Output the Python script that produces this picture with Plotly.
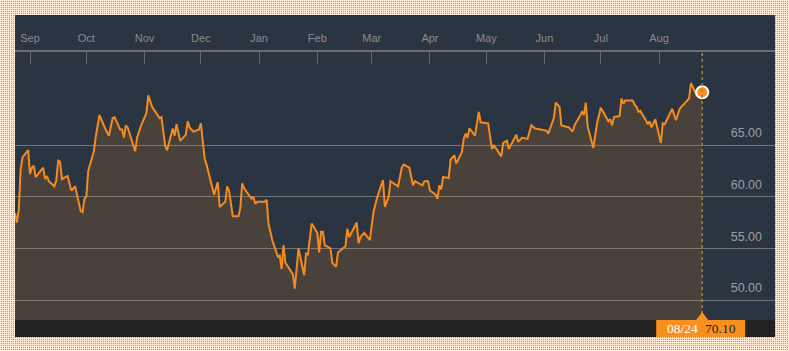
import base64
import pandas as pd
import plotly.graph_objects as go

# ---------------- data ----------------
dates = [
    "2015-08-24", "2015-08-25", "2015-08-26", "2015-08-27", "2015-08-28", "2015-08-31",
    "2015-09-01", "2015-09-02", "2015-09-03", "2015-09-04", "2015-09-08", "2015-09-09",
    "2015-09-10", "2015-09-11", "2015-09-14", "2015-09-15", "2015-09-16", "2015-09-17",
    "2015-09-18", "2015-09-21", "2015-09-23", "2015-09-25", "2015-09-28", "2015-09-29",
    "2015-09-30",
    "2015-10-01", "2015-10-02", "2015-10-05", "2015-10-06", "2015-10-08", "2015-10-11",
    "2015-10-13", "2015-10-15", "2015-10-16", "2015-10-19", "2015-10-20", "2015-10-21",
    "2015-10-22", "2015-10-23", "2015-10-27", "2015-10-28", "2015-10-30",
    "2015-11-02", "2015-11-03", "2015-11-05", "2015-11-08", "2015-11-09", "2015-11-10",
    "2015-11-12", "2015-11-13", "2015-11-16", "2015-11-17", "2015-11-18", "2015-11-20",
    "2015-11-23", "2015-11-24", "2015-11-25", "2015-11-27", "2015-11-30",
    "2015-12-01", "2015-12-02", "2015-12-03", "2015-12-04", "2015-12-08", "2015-12-10",
    "2015-12-11", "2015-12-14", "2015-12-15", "2015-12-16", "2015-12-18", "2015-12-21",
    "2015-12-22", "2015-12-23", "2015-12-24", "2015-12-28", "2015-12-29", "2015-12-30",
    "2015-12-31",
    "2016-01-04", "2016-01-05", "2016-01-06", "2016-01-08", "2016-01-11", "2016-01-12",
    "2016-01-13", "2016-01-14", "2016-01-15", "2016-01-19", "2016-01-20", "2016-01-22",
    "2016-01-25", "2016-01-26", "2016-01-27", "2016-01-29",
    "2016-02-01", "2016-02-02", "2016-02-03", "2016-02-04", "2016-02-05", "2016-02-08",
    "2016-02-09", "2016-02-11", "2016-02-12", "2016-02-16", "2016-02-17", "2016-02-18",
    "2016-02-22", "2016-02-23", "2016-02-24", "2016-02-26", "2016-02-29",
    "2016-03-02", "2016-03-04", "2016-03-07", "2016-03-08", "2016-03-10", "2016-03-11",
    "2016-03-15", "2016-03-17", "2016-03-18", "2016-03-21", "2016-03-23", "2016-03-24",
    "2016-03-28", "2016-03-29", "2016-03-31",
    "2016-04-01", "2016-04-04", "2016-04-05", "2016-04-06", "2016-04-07", "2016-04-08",
    "2016-04-11", "2016-04-12", "2016-04-14", "2016-04-15", "2016-04-18", "2016-04-19",
    "2016-04-20", "2016-04-21", "2016-04-22", "2016-04-25", "2016-04-27", "2016-04-28",
    "2016-05-02", "2016-05-04", "2016-05-05", "2016-05-09", "2016-05-10", "2016-05-12",
    "2016-05-13", "2016-05-17", "2016-05-18", "2016-05-20", "2016-05-23", "2016-05-25",
    "2016-05-27", "2016-05-31",
    "2016-06-02", "2016-06-03", "2016-06-06", "2016-06-07", "2016-06-09", "2016-06-10",
    "2016-06-14", "2016-06-16", "2016-06-17", "2016-06-21", "2016-06-22", "2016-06-23",
    "2016-06-24", "2016-06-27", "2016-06-29",
    "2016-07-01", "2016-07-05", "2016-07-06", "2016-07-07", "2016-07-08", "2016-07-11",
    "2016-07-12", "2016-07-13", "2016-07-14", "2016-07-18", "2016-07-19", "2016-07-20",
    "2016-07-21", "2016-07-22", "2016-07-25", "2016-07-26", "2016-07-27", "2016-07-28",
    "2016-07-29", "2016-07-30",
    "2016-08-02", "2016-08-03", "2016-08-04", "2016-08-06", "2016-08-08", "2016-08-10",
    "2016-08-12", "2016-08-15", "2016-08-17", "2016-08-18", "2016-08-20", "2016-08-21",
    "2016-08-24",
]

prices = [
    58.4, 57.5, 58.7, 62.6, 63.8, 64.5,
    62.2, 62.8, 63.0, 61.9, 62.8, 61.7,
    62.0, 61.5, 61.0, 61.6, 63.5, 63.4,
    61.7, 62.0, 60.6, 61.0, 58.6, 58.5,
    59.8,
    60.0, 62.5, 64.4, 65.8, 67.9, 66.6,
    65.9, 67.6, 67.7, 66.5, 66.5, 65.7,
    66.9, 66.7, 64.4, 65.7, 66.8,
    68.1, 69.8, 68.7, 67.9, 67.6, 67.7,
    64.9, 64.5, 66.6, 65.9, 67.0, 65.4,
    66.0, 67.3, 66.7, 66.3, 66.5,
    67.1, 65.0, 63.7, 63.1, 60.2, 61.4,
    59.0, 59.5, 61.0, 60.6, 58.1, 58.1,
    58.9, 61.3, 60.8, 59.8, 60.0, 59.3,
    59.5,
    59.5, 59.7, 57.4, 55.8, 54.2, 54.3,
    53.0, 55.3, 53.6, 52.5, 51.1, 55.0,
    52.4, 54.5, 54.4, 57.4,
    56.5, 54.6, 56.6, 56.6, 55.3, 55.0,
    53.6, 53.2, 54.6, 55.2, 56.9, 56.1,
    57.5, 55.5, 56.1, 56.5, 55.8,
    58.6, 60.0, 61.6, 59.0, 60.0, 61.5,
    61.0, 62.8, 63.1, 62.8, 61.1, 61.5,
    61.1, 61.5, 61.5,
    60.6, 60.2, 59.8, 61.1, 60.7, 61.9,
    61.8, 63.6, 64.0, 63.2, 64.3, 65.6,
    66.1, 65.7, 66.6, 65.9, 68.2, 67.2,
    67.1, 64.6, 65.0, 63.9, 65.2, 65.4,
    64.6, 66.0, 65.3, 65.7, 65.6, 66.9,
    66.6, 66.5,
    66.4, 66.1, 67.6, 69.1, 68.7, 66.9,
    66.7, 66.3, 66.9, 68.2, 67.9, 69.1,
    66.8, 64.7, 67.1,
    68.6, 67.3, 67.5, 66.9, 67.7, 67.8,
    69.5, 69.0, 69.3, 69.3, 68.9, 68.7,
    68.2, 68.3, 67.4, 67.0, 67.3, 66.7,
    67.1, 67.5,
    65.2, 67.1, 67.0, 67.7, 68.5, 67.4,
    68.5, 69.1, 69.5, 71.0, 70.3, 69.8,
    70.10,
]

month_ticks = ["2015-08-24", "2015-09-01", "2015-10-01", "2015-11-01", "2015-12-01",
               "2016-01-01", "2016-02-01", "2016-03-01", "2016-04-01", "2016-05-01",
               "2016-06-01", "2016-07-01", "2016-08-01", "2016-10-01"]
month_labels = ["", "Sep", "Oct", "Nov", "Dec", "Jan", "Feb", "Mar", "Apr", "May",
                "Jun", "Jul", "Aug", ""]
y_ticks = [50, 55, 60, 65]
y_labels = ["50.00", "55.00", "60.00", "65.00"]

x_range = ["2015-08-24", "2016-10-01 18:28"]
y_range = [48.064, 74.0]

# ---------------- styling ----------------
W, H = 789, 351
ML, MR, MT, MB = 15, 14, 52, 31
PW, PH = W - ML - MR, H - MT - MB
PANEL = "#2b3441"
ORANGE = "#f58b1f"

# dotted orange border pattern as a vector image (transparent in the panel)
border_svg = (
    "<svg xmlns='http://www.w3.org/2000/svg' width='789' height='351' "
    "viewBox='0 0 789 351' shape-rendering='crispEdges'>"
    "<defs><pattern id='p' x='0' y='0' width='2' height='2' patternUnits='userSpaceOnUse'>"
    "<rect x='0' y='0' width='2' height='2' fill='#fce8d2'/>"
    "<rect x='1' y='1' width='1' height='1' fill='#f08c28'/>"
    "</pattern></defs>"
    "<path fill='url(#p)' fill-rule='evenodd' d='M0,0H789V351H0Z M15,15V337H775V15Z'/>"
    "</svg>"
)
border_src = "data:image/svg+xml;base64," + base64.b64encode(border_svg.encode()).decode()

fig = go.Figure()
fig.add_trace(go.Scatter(
    x=dates, y=prices, mode="lines",
    line=dict(color=ORANGE, width=2),
    fill="tozeroy", fillcolor="rgba(247,144,30,0.15)",
    hoverinfo="skip", showlegend=False,
))
fig.add_trace(go.Scatter(
    x=[dates[-1]], y=[prices[-1]], mode="markers",
    marker=dict(size=12, color="#f7901e", line=dict(color="white", width=2)),
    hoverinfo="skip", showlegend=False, cliponaxis=False,
))

last_date = pd.Timestamp(dates[-1])
strip_h = (337 - 320) / PH

shapes = [
    dict(type="rect", xref="paper", yref="paper", x0=0, x1=1, y0=-strip_h, y1=0,
         fillcolor="#222222", line=dict(width=0), layer="above"),
    dict(type="line", xref="x", yref="paper", x0=dates[-1], x1=dates[-1], y0=0, y1=1,
         line=dict(color="#b5832a", width=1.5, dash="dot"), layer="above"),
    dict(type="rect", xref="x", xsizemode="pixel", xanchor=dates[-1], x0=-46, x1=43,
         yref="paper", y0=-strip_h, y1=0, fillcolor="#f7901e", line=dict(width=0),
         layer="above"),
    dict(type="path", xref="x", xsizemode="pixel", xanchor=dates[-1],
         yref="paper", ysizemode="pixel", yanchor=0,
         path="M-6,0 L0,8 L6,0 Z", fillcolor="#f7901e", line=dict(width=0),
         layer="above"),
]

annotations = [
    dict(x=dates[-1], xref="x", y=-strip_h / 2, yref="paper", xshift=-20,
         text=last_date.strftime("%m/%d"), showarrow=False,
         font=dict(family="Liberation Serif, Times New Roman, serif", size=13.5, color="white"),
         xanchor="center", yanchor="middle"),
    dict(x=dates[-1], xref="x", y=-strip_h / 2, yref="paper", xshift=18,
         text=f"{prices[-1]:.2f}", showarrow=False,
         font=dict(family="Liberation Serif, Times New Roman, serif", size=13.5, color="#222222"),
         xanchor="center", yanchor="middle"),
]

fig.update_layout(
    width=W, height=H,
    margin=dict(l=ML, r=MR, t=MT, b=MB, pad=0, autoexpand=False),
    paper_bgcolor=PANEL, plot_bgcolor=PANEL,
    shapes=shapes, annotations=annotations,
    images=[dict(source=border_src, xref="paper", yref="paper",
                 x=-ML / PW, y=1 + MT / PH, sizex=W / PW, sizey=H / PH,
                 xanchor="left", yanchor="top", sizing="stretch", layer="above")],
    xaxis=dict(
        type="date", range=x_range, side="top",
        tickvals=month_ticks, ticktext=month_labels,
        ticks="inside", ticklen=12, tickwidth=1, tickcolor="#65696f",
        showline=True, linecolor="#6c7076", linewidth=1.5,
        showgrid=False, zeroline=False,
        tickfont=dict(family="Liberation Sans, Arial, sans-serif", size=11, color="#868b92"),
        ticklabelstandoff=4,
    ),
    yaxis=dict(
        range=y_range, side="right",
        tickvals=y_ticks, ticktext=y_labels,
        ticks="", ticklabelposition="inside",
        showgrid=True, gridcolor="#6f747b", gridwidth=1,
        zeroline=False, showline=False,
        tickfont=dict(family="Liberation Sans, Arial, sans-serif", size=12.5, color="#9a9ea4"),
        ticklabelshift=-12, ticklabelstandoff=10,
    ),
)

fig.write_html("out.html")
